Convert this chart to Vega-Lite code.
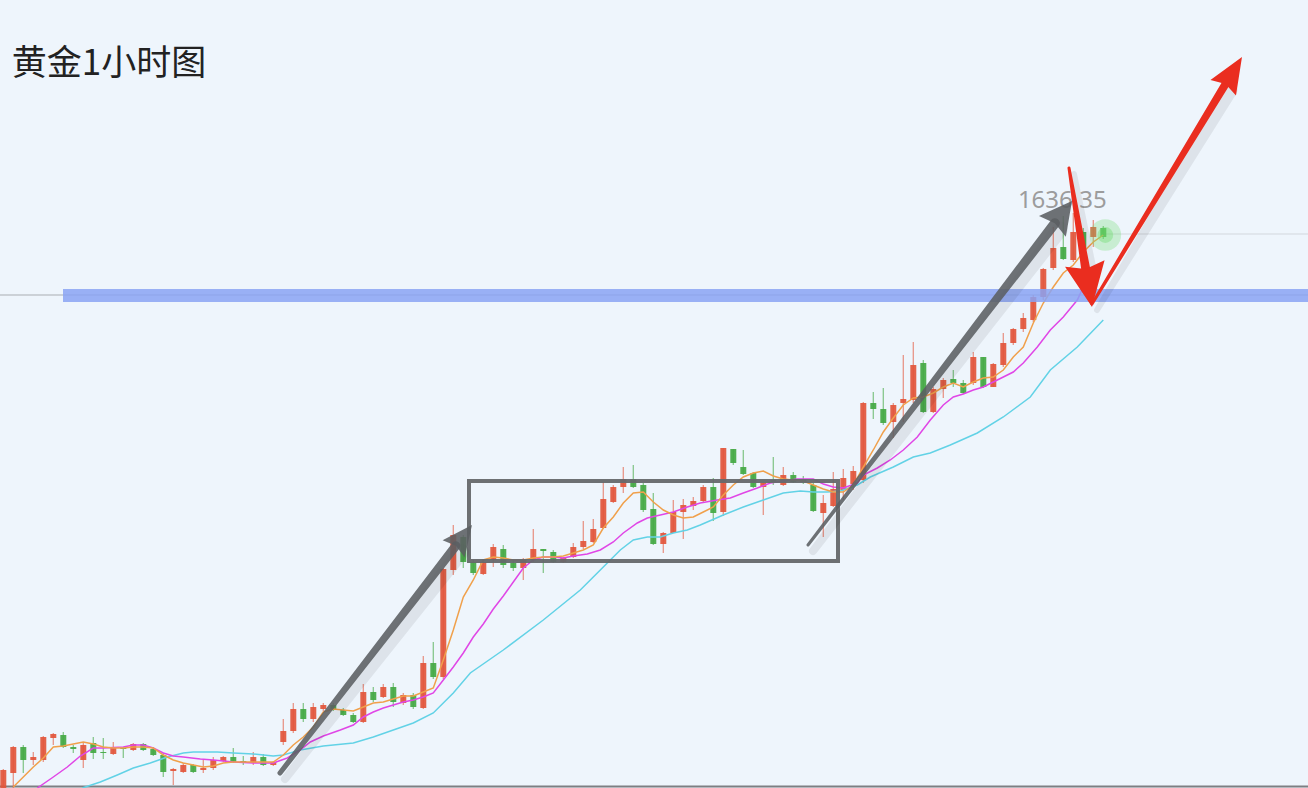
{
"$schema":"https://vega.github.io/schema/vega-lite/v6.json",
"width":1308,"height":788,"autosize":{"type":"none"},"padding":0,
"background":"#eef5fc",
"config":{"view":{"stroke":null},"scale":{"continuousPadding":0}},
"datasets":{
"candles":[
{"i":0,"o":1578.6,"h":1580.7,"l":1578.6,"c":1580.6},
{"i":1,"o":1580.3,"h":1583.0,"l":1578.8,"c":1582.9},
{"i":2,"o":1582.9,"h":1583.1,"l":1580.3,"c":1581.6},
{"i":3,"o":1581.6,"h":1582.4,"l":1581.1,"c":1581.9},
{"i":4,"o":1581.6,"h":1584.0,"l":1581.4,"c":1583.9},
{"i":5,"o":1583.8,"h":1584.3,"l":1583.1,"c":1584.2},
{"i":6,"o":1584.1,"h":1584.4,"l":1582.8,"c":1582.9},
{"i":7,"o":1582.9,"h":1583.1,"l":1582.3,"c":1582.7},
{"i":8,"o":1581.6,"h":1583.3,"l":1580.8,"c":1583.1},
{"i":9,"o":1583.3,"h":1583.9,"l":1581.7,"c":1582.3},
{"i":10,"o":1582.4,"h":1583.8,"l":1581.7,"c":1582.3},
{"i":11,"o":1582.2,"h":1583.4,"l":1582.1,"c":1582.9},
{"i":12,"o":1582.8,"h":1582.9,"l":1581.8,"c":1582.7},
{"i":13,"o":1582.6,"h":1583.3,"l":1582.5,"c":1583.2},
{"i":14,"o":1583.2,"h":1583.3,"l":1582.5,"c":1582.6},
{"i":15,"o":1582.7,"h":1582.9,"l":1582.0,"c":1582.1},
{"i":16,"o":1582.1,"h":1582.3,"l":1579.9,"c":1580.4},
{"i":17,"o":1580.5,"h":1580.8,"l":1579.1,"c":1580.7},
{"i":18,"o":1580.4,"h":1581.3,"l":1580.3,"c":1581.1},
{"i":19,"o":1581.1,"h":1581.2,"l":1580.3,"c":1580.4},
{"i":20,"o":1580.6,"h":1581.6,"l":1580.3,"c":1580.8},
{"i":21,"o":1580.8,"h":1581.9,"l":1580.6,"c":1581.6},
{"i":22,"o":1581.5,"h":1582.0,"l":1581.4,"c":1581.9},
{"i":23,"o":1581.9,"h":1582.8,"l":1581.3,"c":1581.4},
{"i":24,"o":1581.5,"h":1582.0,"l":1581.1,"c":1581.3},
{"i":25,"o":1581.3,"h":1582.4,"l":1581.1,"c":1581.9},
{"i":26,"o":1581.9,"h":1582.2,"l":1581.0,"c":1581.1},
{"i":27,"o":1581.1,"h":1581.5,"l":1581.0,"c":1581.4},
{"i":28,"o":1583.4,"h":1585.7,"l":1583.1,"c":1584.5},
{"i":29,"o":1584.5,"h":1587.3,"l":1584.3,"c":1586.7},
{"i":30,"o":1586.7,"h":1587.3,"l":1585.4,"c":1585.7},
{"i":31,"o":1585.7,"h":1587.3,"l":1585.4,"c":1586.9},
{"i":32,"o":1586.7,"h":1587.3,"l":1586.5,"c":1587.1},
{"i":33,"o":1587.1,"h":1587.3,"l":1586.5,"c":1586.7},
{"i":34,"o":1586.6,"h":1586.8,"l":1586.0,"c":1586.1},
{"i":35,"o":1586.1,"h":1586.3,"l":1585.3,"c":1585.4},
{"i":36,"o":1585.4,"h":1589.2,"l":1585.3,"c":1588.4},
{"i":37,"o":1588.4,"h":1588.9,"l":1587.4,"c":1587.6},
{"i":38,"o":1587.9,"h":1589.2,"l":1587.8,"c":1588.9},
{"i":39,"o":1588.9,"h":1589.3,"l":1586.9,"c":1587.4},
{"i":40,"o":1587.3,"h":1588.3,"l":1587.1,"c":1588.1},
{"i":41,"o":1588.1,"h":1588.3,"l":1586.7,"c":1586.9},
{"i":42,"o":1586.8,"h":1592.0,"l":1586.7,"c":1591.3},
{"i":43,"o":1591.3,"h":1593.4,"l":1589.7,"c":1589.9},
{"i":44,"o":1589.9,"h":1600.8,"l":1589.7,"c":1600.7},
{"i":45,"o":1600.6,"h":1605.1,"l":1600.1,"c":1604.1},
{"i":46,"o":1603.9,"h":1604.1,"l":1600.8,"c":1601.4},
{"i":47,"o":1601.4,"h":1601.6,"l":1600.1,"c":1600.3},
{"i":48,"o":1600.2,"h":1601.7,"l":1600.1,"c":1601.4},
{"i":49,"o":1601.6,"h":1603.2,"l":1600.9,"c":1602.9},
{"i":50,"o":1602.7,"h":1603.1,"l":1600.8,"c":1601.1},
{"i":51,"o":1601.3,"h":1601.6,"l":1600.5,"c":1600.8},
{"i":52,"o":1600.8,"h":1601.8,"l":1599.6,"c":1601.6},
{"i":53,"o":1601.6,"h":1604.7,"l":1601.4,"c":1602.7},
{"i":54,"o":1602.7,"h":1602.7,"l":1600.3,"c":1602.5},
{"i":55,"o":1602.4,"h":1602.6,"l":1601.3,"c":1601.4},
{"i":56,"o":1601.4,"h":1601.9,"l":1601.3,"c":1601.8},
{"i":57,"o":1601.9,"h":1603.3,"l":1601.8,"c":1602.9},
{"i":58,"o":1602.9,"h":1605.5,"l":1602.7,"c":1603.5},
{"i":59,"o":1603.4,"h":1605.7,"l":1603.3,"c":1604.7},
{"i":60,"o":1604.8,"h":1609.4,"l":1604.7,"c":1607.7},
{"i":61,"o":1607.4,"h":1609.1,"l":1607.3,"c":1608.9},
{"i":62,"o":1608.9,"h":1610.9,"l":1608.3,"c":1609.7},
{"i":63,"o":1609.7,"h":1611.1,"l":1608.8,"c":1608.9},
{"i":64,"o":1609.1,"h":1609.3,"l":1606.4,"c":1606.6},
{"i":65,"o":1606.7,"h":1608.3,"l":1603.1,"c":1603.2},
{"i":66,"o":1603.2,"h":1604.4,"l":1602.3,"c":1604.3},
{"i":67,"o":1604.3,"h":1607.6,"l":1604.3,"c":1606.4},
{"i":68,"o":1606.4,"h":1607.7,"l":1603.7,"c":1607.1},
{"i":69,"o":1607.0,"h":1607.9,"l":1606.6,"c":1607.5},
{"i":70,"o":1607.5,"h":1609.1,"l":1607.3,"c":1608.9},
{"i":71,"o":1608.9,"h":1609.8,"l":1605.5,"c":1606.3},
{"i":72,"o":1606.4,"h":1612.8,"l":1606.0,"c":1612.8},
{"i":73,"o":1612.7,"h":1612.7,"l":1611.1,"c":1611.3},
{"i":74,"o":1610.9,"h":1612.6,"l":1610.1,"c":1610.2},
{"i":75,"o":1610.3,"h":1610.4,"l":1608.8,"c":1608.9},
{"i":76,"o":1608.9,"h":1609.3,"l":1606.1,"c":1609.3},
{"i":77,"o":1609.6,"h":1611.9,"l":1609.1,"c":1609.3},
{"i":78,"o":1609.1,"h":1610.9,"l":1609.0,"c":1610.1},
{"i":79,"o":1610.1,"h":1610.4,"l":1609.3,"c":1609.4},
{"i":80,"o":1609.7,"h":1610.0,"l":1609.2,"c":1609.4},
{"i":81,"o":1609.1,"h":1609.3,"l":1606.4,"c":1606.5},
{"i":82,"o":1606.3,"h":1608.1,"l":1603.9,"c":1607.3},
{"i":83,"o":1607.0,"h":1610.4,"l":1606.9,"c":1608.7},
{"i":84,"o":1608.6,"h":1610.7,"l":1607.6,"c":1609.8},
{"i":85,"o":1609.2,"h":1611.0,"l":1608.6,"c":1610.5},
{"i":86,"o":1609.6,"h":1617.4,"l":1609.3,"c":1617.3},
{"i":87,"o":1617.3,"h":1618.4,"l":1615.7,"c":1616.7},
{"i":88,"o":1616.7,"h":1618.8,"l":1615.1,"c":1615.3},
{"i":89,"o":1615.4,"h":1617.3,"l":1613.8,"c":1617.1},
{"i":90,"o":1617.3,"h":1622.1,"l":1615.4,"c":1617.7},
{"i":91,"o":1617.6,"h":1623.4,"l":1617.3,"c":1621.1},
{"i":92,"o":1621.3,"h":1621.6,"l":1616.3,"c":1616.4},
{"i":93,"o":1616.4,"h":1618.9,"l":1616.3,"c":1618.7},
{"i":94,"o":1618.7,"h":1619.8,"l":1617.8,"c":1619.6},
{"i":95,"o":1619.7,"h":1620.6,"l":1618.9,"c":1619.3},
{"i":96,"o":1619.3,"h":1619.6,"l":1618.2,"c":1618.3},
{"i":97,"o":1619.3,"h":1622.4,"l":1619.1,"c":1621.9},
{"i":98,"o":1621.9,"h":1621.9,"l":1618.8,"c":1618.9},
{"i":99,"o":1618.9,"h":1621.3,"l":1618.9,"c":1621.2},
{"i":100,"o":1621.1,"h":1624.3,"l":1620.9,"c":1623.3},
{"i":101,"o":1623.3,"h":1624.8,"l":1623.1,"c":1624.7},
{"i":102,"o":1624.7,"h":1626.3,"l":1624.4,"c":1625.8},
{"i":103,"o":1625.6,"h":1628.1,"l":1625.4,"c":1627.9},
{"i":104,"o":1627.9,"h":1630.8,"l":1627.6,"c":1630.7},
{"i":105,"o":1630.8,"h":1634.9,"l":1630.6,"c":1632.8},
{"i":106,"o":1632.9,"h":1636.0,"l":1631.6,"c":1631.7},
{"i":107,"o":1631.6,"h":1636.3,"l":1631.4,"c":1634.4},
{"i":108,"o":1634.4,"h":1634.8,"l":1632.4,"c":1632.8},
{"i":109,"o":1633.9,"h":1635.6,"l":1632.9,"c":1634.9},
{"i":110,"o":1634.8,"h":1635.0,"l":1633.7,"c":1633.9}
],
"ma5":[
{"i":1,"p":1578.9},{"i":3,"p":1580.9},{"i":4,"p":1581.8},{"i":5,"p":1582.9},{"i":6,"p":1583.0},{"i":7,"p":1583.2},{"i":8,"p":1583.4},{"i":9,"p":1583.2},{"i":10,"p":1582.9},{"i":11,"p":1582.8},{"i":12,"p":1582.8},{"i":13,"p":1582.9},{"i":14,"p":1582.9},{"i":15,"p":1582.8},{"i":16,"p":1582.1},{"i":17,"p":1581.6},{"i":18,"p":1581.3},{"i":19,"p":1581.1},{"i":20,"p":1580.9},{"i":21,"p":1581.0},{"i":22,"p":1581.3},{"i":23,"p":1581.4},{"i":24,"p":1581.4},{"i":25,"p":1581.4},{"i":26,"p":1581.4},{"i":27,"p":1581.4},{"i":28,"p":1582.1},{"i":29,"p":1583.1},{"i":30,"p":1583.9},{"i":31,"p":1584.9},{"i":32,"p":1586.4},{"i":33,"p":1586.7},{"i":34,"p":1586.6},{"i":35,"p":1586.5},{"i":36,"p":1586.9},{"i":37,"p":1587.3},{"i":38,"p":1587.4},{"i":39,"p":1587.7},{"i":40,"p":1588.0},{"i":41,"p":1588.0},{"i":42,"p":1588.4},{"i":43,"p":1588.8},{"i":44,"p":1591.6},{"i":45,"p":1594.6},{"i":46,"p":1597.9},{"i":47,"p":1599.6},{"i":48,"p":1601.6},{"i":49,"p":1601.9},{"i":50,"p":1601.8},{"i":51,"p":1601.6},{"i":52,"p":1601.6},{"i":53,"p":1601.8},{"i":54,"p":1601.9},{"i":55,"p":1601.9},{"i":56,"p":1602.0},{"i":57,"p":1602.3},{"i":58,"p":1602.6},{"i":59,"p":1603.1},{"i":60,"p":1604.8},{"i":61,"p":1605.9},{"i":62,"p":1607.3},{"i":63,"p":1608.3},{"i":64,"p":1608.4},{"i":65,"p":1607.4},{"i":66,"p":1606.6},{"i":67,"p":1606.1},{"i":68,"p":1605.8},{"i":69,"p":1605.9},{"i":70,"p":1606.4},{"i":71,"p":1606.9},{"i":72,"p":1608.1},{"i":73,"p":1609.1},{"i":74,"p":1609.9},{"i":75,"p":1610.3},{"i":76,"p":1610.5},{"i":77,"p":1610.0},{"i":78,"p":1609.7},{"i":79,"p":1609.6},{"i":80,"p":1609.5},{"i":81,"p":1609.1},{"i":82,"p":1608.7},{"i":83,"p":1608.4},{"i":84,"p":1608.4},{"i":85,"p":1609.1},{"i":86,"p":1610.9},{"i":87,"p":1612.6},{"i":88,"p":1614.4},{"i":89,"p":1615.8},{"i":90,"p":1617.1},{"i":91,"p":1617.8},{"i":92,"p":1617.9},{"i":93,"p":1618.3},{"i":94,"p":1618.9},{"i":95,"p":1619.3},{"i":96,"p":1618.9},{"i":97,"p":1619.4},{"i":98,"p":1619.8},{"i":99,"p":1619.9},{"i":100,"p":1620.6},{"i":101,"p":1621.9},{"i":102,"p":1622.9},{"i":103,"p":1625.3},{"i":104,"p":1627.3},{"i":105,"p":1628.9},{"i":106,"p":1630.3},{"i":107,"p":1631.1},{"i":108,"p":1632.4},{"i":109,"p":1633.4},{"i":110,"p":1634.1}
],
"ma10":[
{"i":3.4,"p":1578.8},{"i":5.0,"p":1579.9},{"i":6.4,"p":1580.9},{"i":7.7,"p":1582.0},{"i":9.0,"p":1582.8},{"i":10.0,"p":1582.8},{"i":12.0,"p":1582.9},{"i":13.0,"p":1583.1},{"i":14.0,"p":1583.1},{"i":15.0,"p":1582.8},{"i":16.0,"p":1582.3},{"i":17.0,"p":1582.0},{"i":18.0,"p":1581.9},{"i":19.7,"p":1581.7},{"i":21.0,"p":1581.6},{"i":23.0,"p":1581.4},{"i":25.0,"p":1581.3},{"i":27.0,"p":1581.3},{"i":28.4,"p":1581.8},{"i":29.7,"p":1582.6},{"i":30.7,"p":1583.4},{"i":32.0,"p":1584.0},{"i":33.7,"p":1584.6},{"i":35.0,"p":1585.1},{"i":36.0,"p":1585.9},{"i":37.0,"p":1586.4},{"i":38.0,"p":1586.8},{"i":39.0,"p":1587.1},{"i":40.0,"p":1587.4},{"i":41.0,"p":1587.6},{"i":42.0,"p":1587.9},{"i":43.0,"p":1588.3},{"i":44.0,"p":1589.6},{"i":45.0,"p":1590.9},{"i":46.0,"p":1592.3},{"i":47.0,"p":1593.9},{"i":48.0,"p":1595.2},{"i":49.0,"p":1596.7},{"i":50.0,"p":1598.0},{"i":51.0,"p":1599.4},{"i":52.0,"p":1600.8},{"i":53.0,"p":1601.6},{"i":54.0,"p":1601.9},{"i":55.0,"p":1601.9},{"i":56.0,"p":1601.8},{"i":57.0,"p":1602.0},{"i":58.4,"p":1602.2},{"i":59.7,"p":1602.6},{"i":61.0,"p":1603.4},{"i":62.0,"p":1604.3},{"i":63.4,"p":1605.3},{"i":64.4,"p":1605.8},{"i":65.7,"p":1606.1},{"i":67.0,"p":1606.4},{"i":68.4,"p":1606.9},{"i":69.7,"p":1607.3},{"i":71.4,"p":1607.6},{"i":72.7,"p":1607.8},{"i":74.0,"p":1608.3},{"i":75.4,"p":1608.8},{"i":76.7,"p":1609.3},{"i":78.0,"p":1609.5},{"i":79.4,"p":1609.7},{"i":81.0,"p":1609.7},{"i":82.0,"p":1609.2},{"i":83.0,"p":1608.9},{"i":84.0,"p":1608.8},{"i":85.4,"p":1609.3},{"i":86.0,"p":1610.1},{"i":87.4,"p":1610.8},{"i":88.7,"p":1611.6},{"i":90.0,"p":1612.6},{"i":91.4,"p":1613.9},{"i":92.7,"p":1615.6},{"i":94.0,"p":1617.1},{"i":95.0,"p":1617.9},{"i":96.0,"p":1618.2},{"i":97.0,"p":1618.6},{"i":98.0,"p":1618.9},{"i":99.4,"p":1619.6},{"i":101.0,"p":1620.4},{"i":102.0,"p":1621.3},{"i":103.4,"p":1622.9},{"i":104.7,"p":1624.6},{"i":106.0,"p":1625.9},{"i":107.4,"p":1627.6},{"i":108.0,"p":1628.9}
],
"ma20":[
{"i":7.9,"p":1578.8},{"i":9.7,"p":1579.4},{"i":11.4,"p":1580.1},{"i":13.0,"p":1580.8},{"i":14.7,"p":1581.3},{"i":16.4,"p":1581.9},{"i":18.0,"p":1582.3},{"i":19.0,"p":1582.4},{"i":21.4,"p":1582.4},{"i":23.0,"p":1582.3},{"i":25.0,"p":1582.2},{"i":27.0,"p":1582.0},{"i":28.0,"p":1582.1},{"i":29.7,"p":1582.6},{"i":32.0,"p":1583.0},{"i":35.0,"p":1583.3},{"i":37.0,"p":1583.9},{"i":39.0,"p":1584.6},{"i":41.0,"p":1585.3},{"i":43.0,"p":1586.3},{"i":45.0,"p":1588.3},{"i":46.7,"p":1590.3},{"i":50.0,"p":1592.6},{"i":54.0,"p":1595.6},{"i":57.7,"p":1598.6},{"i":59.0,"p":1599.9},{"i":60.4,"p":1601.3},{"i":61.7,"p":1602.6},{"i":63.0,"p":1603.6},{"i":64.4,"p":1603.9},{"i":65.7,"p":1603.9},{"i":67.0,"p":1604.3},{"i":68.4,"p":1604.6},{"i":69.7,"p":1605.1},{"i":72.0,"p":1606.1},{"i":74.0,"p":1606.9},{"i":76.0,"p":1607.6},{"i":78.0,"p":1608.3},{"i":79.7,"p":1608.5},{"i":81.0,"p":1608.4},{"i":82.4,"p":1608.4},{"i":83.7,"p":1608.5},{"i":85.4,"p":1609.1},{"i":86.7,"p":1609.9},{"i":89.0,"p":1610.9},{"i":91.0,"p":1611.9},{"i":92.7,"p":1612.3},{"i":94.7,"p":1613.1},{"i":97.4,"p":1614.3},{"i":100.0,"p":1615.9},{"i":102.7,"p":1617.9},{"i":104.7,"p":1620.6},{"i":107.4,"p":1622.9},{"i":110.0,"p":1625.6}
],
"arrows":[
{"a":"g1","t":0,"i":27.67,"p":1580.3},{"a":"g1","t":1,"i":45.26,"p":1603.02},
{"a":"g2","t":0,"i":80.47,"p":1603.1},{"a":"g2","t":1,"i":105.16,"p":1635.28},
{"a":"r1","t":0,"i":106.57,"p":1640.8},{"a":"r1","t":1,"i":108.24,"p":1630.7},
{"a":"r2","t":0,"i":108.87,"p":1627.2},{"a":"r2","t":1,"i":122.23,"p":1649.21}
],
"heads":[
{"a":"g1","i":45.95,"p":1603.91},
{"a":"g2","i":105.89,"p":1636.23},
{"a":"r1","i":108.51,"p":1629.07},
{"a":"r2","i":122.93,"p":1650.36}
]
},
"resolve":{"scale":{"size":"independent"}},
"layer":[
{"data":{"values":[{}]},"mark":{"type":"rule","color":"#a9adb2","strokeWidth":1},"encoding":{"x":{"datum":-0.33,"type":"quantitative","scale":{"domain":[-0.33,130.47],"nice":false,"zero":false},"axis":null},"x2":{"datum":130.47},"y":{"datum":1628.1,"type":"quantitative","scale":{"domain":[1578.8,1657.6],"nice":false,"zero":false},"axis":null}}},
{"data":{"values":[{}]},"mark":{"type":"rule","color":"#7d7f82","strokeWidth":2},"encoding":{"x":{"datum":-0.33,"type":"quantitative","scale":{"domain":[-0.33,130.47],"nice":false,"zero":false},"axis":null},"x2":{"datum":130.47},"y":{"datum":1578.95,"type":"quantitative","scale":{"domain":[1578.8,1657.6],"nice":false,"zero":false},"axis":null}}},
{"data":{"values":[{}]},"mark":{"type":"rule","color":"#d2d7dd","strokeWidth":1},"encoding":{"x":{"datum":110.2,"type":"quantitative","scale":{"domain":[-0.33,130.47],"nice":false,"zero":false},"axis":null},"x2":{"datum":130.47},"y":{"datum":1634.2,"type":"quantitative","scale":{"domain":[1578.8,1657.6],"nice":false,"zero":false},"axis":null}}},
{"data":{"name":"candles"},"mark":{"type":"rule","strokeWidth":1.3,"opacity":0.6},"encoding":{"x":{"field":"i","type":"quantitative","scale":{"domain":[-0.33,130.47],"nice":false,"zero":false},"axis":null},"y":{"field":"l","type":"quantitative","scale":{"domain":[1578.8,1657.6],"nice":false,"zero":false},"axis":null},"y2":{"field":"h"},"color":{"condition":{"test":"datum.c >= datum.o","value":"#e2553b"},"value":"#43a843"}}},
{"data":{"name":"candles"},"mark":{"type":"bar","size":6,"opacity":0.92},"encoding":{"x":{"field":"i","type":"quantitative","scale":{"domain":[-0.33,130.47],"nice":false,"zero":false},"axis":null},"y":{"field":"o","type":"quantitative","scale":{"domain":[1578.8,1657.6],"nice":false,"zero":false},"axis":null},"y2":{"field":"c"},"color":{"condition":{"test":"datum.c >= datum.o","value":"#e2553b"},"value":"#43a843"}}},
{"data":{"name":"ma20"},"mark":{"type":"line","color":"#62d2e6","strokeWidth":1.5},"encoding":{"x":{"field":"i","type":"quantitative","scale":{"domain":[-0.33,130.47],"nice":false,"zero":false},"axis":null},"y":{"field":"p","type":"quantitative","scale":{"domain":[1578.8,1657.6],"nice":false,"zero":false},"axis":null}}},
{"data":{"name":"ma10"},"mark":{"type":"line","color":"#e046e6","strokeWidth":1.5},"encoding":{"x":{"field":"i","type":"quantitative","scale":{"domain":[-0.33,130.47],"nice":false,"zero":false},"axis":null},"y":{"field":"p","type":"quantitative","scale":{"domain":[1578.8,1657.6],"nice":false,"zero":false},"axis":null}}},
{"data":{"name":"ma5"},"mark":{"type":"line","color":"#f0a04b","strokeWidth":1.5},"encoding":{"x":{"field":"i","type":"quantitative","scale":{"domain":[-0.33,130.47],"nice":false,"zero":false},"axis":null},"y":{"field":"p","type":"quantitative","scale":{"domain":[1578.8,1657.6],"nice":false,"zero":false},"axis":null}}},
{"data":{"values":[{}]},"mark":{"type":"point","filled":true,"shape":"circle","size":1000,"color":"#6fdc6f","opacity":0.3},"encoding":{"x":{"datum":110.2,"type":"quantitative","scale":{"domain":[-0.33,130.47],"nice":false,"zero":false},"axis":null},"y":{"datum":1634.1,"type":"quantitative","scale":{"domain":[1578.8,1657.6],"nice":false,"zero":false},"axis":null}}},
{"data":{"values":[{}]},"mark":{"type":"point","filled":true,"shape":"circle","size":250,"color":"#6fdc6f","opacity":0.4},"encoding":{"x":{"datum":110.2,"type":"quantitative","scale":{"domain":[-0.33,130.47],"nice":false,"zero":false},"axis":null},"y":{"datum":1634.1,"type":"quantitative","scale":{"domain":[1578.8,1657.6],"nice":false,"zero":false},"axis":null}}},
{"data":{"values":[{}]},"mark":{"type":"rect","color":"#8aa3f3","opacity":0.85},"encoding":{"x":{"datum":5.97,"type":"quantitative","scale":{"domain":[-0.33,130.47],"nice":false,"zero":false},"axis":null},"x2":{"datum":130.47},"y":{"datum":1628.7,"type":"quantitative","scale":{"domain":[1578.8,1657.6],"nice":false,"zero":false},"axis":null},"y2":{"datum":1627.4}}},
{"data":{"values":[{}]},"mark":{"type":"rect","filled":false,"stroke":"#65686b","strokeWidth":4,"strokeOpacity":0.95},"encoding":{"x":{"datum":46.57,"type":"quantitative","scale":{"domain":[-0.33,130.47],"nice":false,"zero":false},"axis":null},"x2":{"datum":83.47},"y":{"datum":1609.5,"type":"quantitative","scale":{"domain":[1578.8,1657.6],"nice":false,"zero":false},"axis":null},"y2":{"datum":1601.5}}},
{"data":{"values":[{}]},"mark":{"type":"text","text":"1636.35","font":"Noto Sans","fontSize":24,"color":"#9c9c9c","align":"center","baseline":"middle"},"encoding":{"x":{"datum":105.9,"type":"quantitative","scale":{"domain":[-0.33,130.47],"nice":false,"zero":false},"axis":null},"y":{"datum":1637.55,"type":"quantitative","scale":{"domain":[1578.8,1657.6],"nice":false,"zero":false},"axis":null}}},
{"data":{"values":[{}]},"mark":{"type":"text","text":"黄金1小时图","font":"Noto Sans CJK SC","fontSize":35,"color":"#222222","align":"left","baseline":"middle"},"encoding":{"x":{"datum":0.85,"type":"quantitative","scale":{"domain":[-0.33,130.47],"nice":false,"zero":false},"axis":null},"y":{"datum":1651.2,"type":"quantitative","scale":{"domain":[1578.8,1657.6],"nice":false,"zero":false},"axis":null}}},
{"data":{"name":"arrows"},"transform":[{"filter":"datum.a === 'g1' || datum.a === 'g2'"}],"mark":{"type":"trail","color":"#000000","opacity":0.07,"xOffset":5,"yOffset":6},"encoding":{"x":{"field":"i","type":"quantitative","scale":{"domain":[-0.33,130.47],"nice":false,"zero":false},"axis":null},"y":{"field":"p","type":"quantitative","scale":{"domain":[1578.8,1657.6],"nice":false,"zero":false},"axis":null},"detail":{"field":"a"},"order":{"field":"t"},"size":{"field":"t","type":"quantitative","scale":{"domain":[0,1],"range":[8,16]},"legend":null}}},
{"data":{"name":"arrows"},"transform":[{"filter":"datum.a === 'g1'"}],"mark":{"type":"trail","color":"#5b5e62","opacity":0.88},"encoding":{"x":{"field":"i","type":"quantitative","scale":{"domain":[-0.33,130.47],"nice":false,"zero":false},"axis":null},"y":{"field":"p","type":"quantitative","scale":{"domain":[1578.8,1657.6],"nice":false,"zero":false},"axis":null},"order":{"field":"t"},"size":{"field":"t","type":"quantitative","scale":{"domain":[0,1],"range":[5,9]},"legend":null}}},
{"data":{"name":"arrows"},"transform":[{"filter":"datum.a === 'g2'"}],"mark":{"type":"trail","color":"#5b5e62","opacity":0.88},"encoding":{"x":{"field":"i","type":"quantitative","scale":{"domain":[-0.33,130.47],"nice":false,"zero":false},"axis":null},"y":{"field":"p","type":"quantitative","scale":{"domain":[1578.8,1657.6],"nice":false,"zero":false},"axis":null},"order":{"field":"t"},"size":{"field":"t","type":"quantitative","scale":{"domain":[0,1],"range":[3,10]},"legend":null}}},
{"data":{"name":"heads"},"transform":[{"filter":"datum.a === 'g1'"}],"mark":{"type":"point","filled":true,"shape":"M0,-1L0.93,1L0,0.75L-0.93,1Z","size":900,"angle":37.7,"color":"#5b5e62","opacity":0.88,"strokeWidth":0},"encoding":{"x":{"field":"i","type":"quantitative","scale":{"domain":[-0.33,130.47],"nice":false,"zero":false},"axis":null},"y":{"field":"p","type":"quantitative","scale":{"domain":[1578.8,1657.6],"nice":false,"zero":false},"axis":null}}},
{"data":{"name":"heads"},"transform":[{"filter":"datum.a === 'g2'"}],"mark":{"type":"point","filled":true,"shape":"M0,-1L1.06,1L0,0.75L-1.06,1Z","size":1024,"angle":37.7,"color":"#5b5e62","opacity":0.88,"strokeWidth":0},"encoding":{"x":{"field":"i","type":"quantitative","scale":{"domain":[-0.33,130.47],"nice":false,"zero":false},"axis":null},"y":{"field":"p","type":"quantitative","scale":{"domain":[1578.8,1657.6],"nice":false,"zero":false},"axis":null}}},
{"data":{"name":"arrows"},"transform":[{"filter":"datum.a === 'r1' || datum.a === 'r2'"}],"mark":{"type":"trail","color":"#000000","opacity":0.07,"xOffset":5,"yOffset":6},"encoding":{"x":{"field":"i","type":"quantitative","scale":{"domain":[-0.33,130.47],"nice":false,"zero":false},"axis":null},"y":{"field":"p","type":"quantitative","scale":{"domain":[1578.8,1657.6],"nice":false,"zero":false},"axis":null},"detail":{"field":"a"},"order":{"field":"t"},"size":{"field":"t","type":"quantitative","scale":{"domain":[0,1],"range":[6,14]},"legend":null}}},
{"data":{"name":"arrows"},"transform":[{"filter":"datum.a === 'r1'"}],"mark":{"type":"trail","color":"#ea2d1f"},"encoding":{"x":{"field":"i","type":"quantitative","scale":{"domain":[-0.33,130.47],"nice":false,"zero":false},"axis":null},"y":{"field":"p","type":"quantitative","scale":{"domain":[1578.8,1657.6],"nice":false,"zero":false},"axis":null},"order":{"field":"t"},"size":{"field":"t","type":"quantitative","scale":{"domain":[0,1],"range":[3,9]},"legend":null}}},
{"data":{"name":"arrows"},"transform":[{"filter":"datum.a === 'r2'"}],"mark":{"type":"trail","color":"#ea2d1f"},"encoding":{"x":{"field":"i","type":"quantitative","scale":{"domain":[-0.33,130.47],"nice":false,"zero":false},"axis":null},"y":{"field":"p","type":"quantitative","scale":{"domain":[1578.8,1657.6],"nice":false,"zero":false},"axis":null},"order":{"field":"t"},"size":{"field":"t","type":"quantitative","scale":{"domain":[0,1],"range":[3,8]},"legend":null}}},
{"data":{"name":"heads"},"transform":[{"filter":"datum.a === 'r1'"}],"mark":{"type":"point","filled":true,"shape":"M0,-1L0.91,1L0,0.75L-0.91,1Z","size":1936,"angle":170.6,"color":"#ea2d1f","opacity":1,"strokeWidth":0},"encoding":{"x":{"field":"i","type":"quantitative","scale":{"domain":[-0.33,130.47],"nice":false,"zero":false},"axis":null},"y":{"field":"p","type":"quantitative","scale":{"domain":[1578.8,1657.6],"nice":false,"zero":false},"axis":null}}},
{"data":{"name":"heads"},"transform":[{"filter":"datum.a === 'r2'"}],"mark":{"type":"point","filled":true,"shape":"M0,-1L0.83,1L0,0.75L-0.83,1Z","size":1296,"angle":31.4,"color":"#ea2d1f","opacity":1,"strokeWidth":0},"encoding":{"x":{"field":"i","type":"quantitative","scale":{"domain":[-0.33,130.47],"nice":false,"zero":false},"axis":null},"y":{"field":"p","type":"quantitative","scale":{"domain":[1578.8,1657.6],"nice":false,"zero":false},"axis":null}}}
]
}
